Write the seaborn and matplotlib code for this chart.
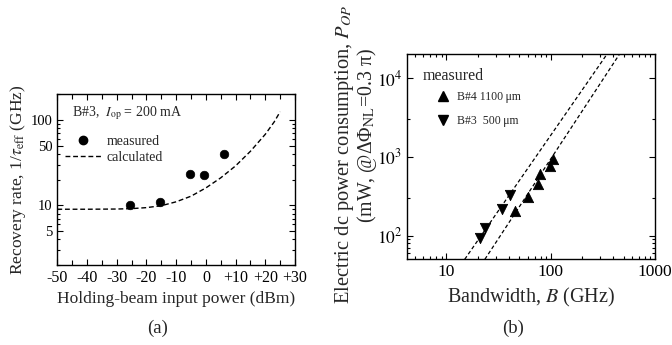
import numpy as np
import pandas as pd
import matplotlib
matplotlib.use("Agg")
import matplotlib.pyplot as plt
import matplotlib.ticker as mticker
from matplotlib.lines import Line2D
import seaborn as sns

# ---------------- data ----------------
# panel (a)
meas_power = [-25.5, -15.5, -5.5, -0.5, 6.0]
meas_rate = [10.0, 11.0, 23.0, 22.5, 40.0]
calc_power = [-50, -40, -30, -25, -20, -15, -10, -5, 0, 5, 10, 15, 20, 23, 25]
calc_rate = [9.0, 9.0, 9.05, 9.15, 9.4, 9.9, 11.0, 12.8, 16.0, 21.0, 29.0, 43.0, 68.0, 95.0, 125.0]
a_xticks = [-50, -40, -30, -20, -10, 0, 10, 20, 30]
a_xticklabels = ["-50", "-40", "-30", "-20", "-10", "0", "+10", "+20", "+30"]
a_yticks = [5, 10, 50, 100]

# panel (b)
b4_bw = [45.4, 60.2, 75.2, 79.7, 98.9, 105.7]
b4_pw = [208, 308, 452, 606, 757, 948]
b3_bw = [21.0, 23.3, 34.5, 40.6]
b3_pw = [93, 124, 217, 323]
fit3_bw = [15.0, 346.0]
fit3_pw = [50.0, 20000.0]
fit4_bw = [23.4, 456.0]
fit4_pw = [50.0, 20000.0]
b_xticks = [10, 100, 1000]
b_xticklabels = ["10", "100", "1000"]
b_yticks = [100, 1000, 10000]
b_yticklabels = [r"$10^2$", r"$10^3$", r"$10^4$"]

# ---------------- style ----------------
sns.set_style("ticks")
plt.rcParams["font.family"] = ["Liberation Serif", "DejaVu Serif"]
plt.rcParams["mathtext.fontset"] = "stix"
plt.rcParams["xtick.direction"] = "in"
plt.rcParams["ytick.direction"] = "in"

fig = plt.figure(figsize=(6.72, 3.45), dpi=100)
axa = fig.add_axes([0.0853, 0.2319, 0.3537, 0.4948])
axb = fig.add_axes([0.6057, 0.2484, 0.3690, 0.5942])

# ---------------- panel (a) ----------------
sns.lineplot(x=calc_power, y=calc_rate, ax=axa, color="black", lw=1.0,
             linestyle=(0, (3.5, 2.0)), legend=False)
sns.scatterplot(x=meas_power, y=meas_rate, ax=axa, color="black", s=38,
                marker="o", edgecolor="black", legend=False)
axa.set_yscale("log")
axa.set_xlim(-50, 30)
axa.set_ylim(2, 200)
axa.set_xticks(a_xticks)
axa.set_xticklabels(a_xticklabels)
axa.xaxis.set_minor_locator(mticker.MultipleLocator(5))
axa.set_yticks(a_yticks)
axa.set_yticklabels([str(v) for v in a_yticks])
axa.yaxis.set_minor_locator(mticker.LogLocator(base=10, subs=np.arange(2, 10)))
axa.yaxis.set_minor_formatter(mticker.NullFormatter())
axa.tick_params(which="both", top=True, right=True, width=0.8, colors="black")
axa.tick_params(axis="x", labelsize=11.5)
axa.tick_params(axis="y", labelsize=10.5)
axa.tick_params(which="major", length=4)
axa.tick_params(which="minor", length=2)
axa.tick_params(axis="x", which="minor", length=3.5)
for s in axa.spines.values():
    s.set_linewidth(1.0)
    s.set_color("black")
axa.set_xlabel("Holding-beam input power (dBm)", fontsize=12.5, labelpad=4)
axa.set_ylabel(r"Recovery rate, 1/$\tau_{\rm eff}$ (GHz)", fontsize=12.5, labelpad=2)
axa.text(0.06, 0.89, r"B#3,  $I_{\rm op}$ = 200 mA", transform=axa.transAxes,
         fontsize=10, va="center", ha="left")
handles_a = [Line2D([], [], marker="o", color="black", linestyle="none", markersize=6),
             Line2D([], [], color="black", lw=1.0, linestyle=(0, (3.5, 2.0)))]
axa.legend(handles_a, ["measured", "calculated"], loc="upper left",
           bbox_to_anchor=(0.01, 0.795), frameon=False, fontsize=10,
           handlelength=2.6, handletextpad=0.4, borderaxespad=0.0,
           labelspacing=0.25)

# ---------------- panel (b) ----------------
sns.lineplot(x=fit3_bw, y=fit3_pw, ax=axb, color="black", lw=0.9,
             linestyle=(0, (3.0, 2.0)), legend=False)
sns.lineplot(x=fit4_bw, y=fit4_pw, ax=axb, color="black", lw=0.9,
             linestyle=(0, (3.0, 2.0)), legend=False)
sns.scatterplot(x=b4_bw, y=b4_pw, ax=axb, color="black", marker="^", s=55,
                edgecolor="black", legend=False)
sns.scatterplot(x=b3_bw, y=b3_pw, ax=axb, color="black", marker="v", s=55,
                edgecolor="black", legend=False)
axb.set_xscale("log")
axb.set_yscale("log")
axb.set_xlim(4.2, 1000)
axb.set_ylim(50, 20000)
axb.xaxis.set_major_locator(mticker.FixedLocator(b_xticks))
axb.xaxis.set_major_formatter(mticker.FixedFormatter(b_xticklabels))
axb.xaxis.set_minor_locator(mticker.LogLocator(base=10, subs=np.arange(2, 10)))
axb.xaxis.set_minor_formatter(mticker.NullFormatter())
axb.yaxis.set_major_locator(mticker.FixedLocator(b_yticks))
axb.yaxis.set_major_formatter(mticker.FixedFormatter(b_yticklabels))
axb.yaxis.set_minor_locator(mticker.FixedLocator([60, 70, 80, 90, 300, 3000]))
axb.yaxis.set_minor_formatter(mticker.NullFormatter())
axb.tick_params(which="both", top=True, right=True, labelsize=12.5, width=0.8,
                colors="black")
axb.tick_params(which="major", length=4)
axb.tick_params(which="minor", length=2.5)
for s in axb.spines.values():
    s.set_linewidth(1.0)
    s.set_color("black")
axb.set_xlabel(r"Bandwidth, $B$ (GHz)", fontsize=14.5, labelpad=4)
axb.set_ylabel("")
fig.text(344 / 672, 1 - 154 / 345, "Electric dc power consumption, $P_{OP}$",
         rotation=90, ha="center", va="center", fontsize=14.8)
fig.text(367 / 672, 1 - 136 / 345, r"(mW, @ΔΦ$_{\rm NL}$=0.3 π)",
         rotation=90, ha="center", va="center", fontsize=14.3)
axb.text(0.065, 0.894, "measured", transform=axb.transAxes, fontsize=11.5,
         ha="left", va="center")
handles_b = [Line2D([], [], marker="^", color="black", linestyle="none", markersize=7),
             Line2D([], [], marker="v", color="black", linestyle="none", markersize=7)]
axb.legend(handles_b, [u"B#4 1100\u2009\u03bcm", u"B#3  500\u2009\u03bcm"],
           loc="upper left", bbox_to_anchor=(0.121, 0.821), borderpad=0.0,
           frameon=False, fontsize=8.5, handlelength=1.0, handletextpad=0.7,
           labelspacing=1.0, borderaxespad=0.0)

fig.text(158 / 672, 1 - 328 / 345, "(a)", fontsize=13.5, ha="center", va="center")
fig.text(513 / 672, 1 - 328 / 345, "(b)", fontsize=13.5, ha="center", va="center")

fig.savefig("out.png", dpi=100)
